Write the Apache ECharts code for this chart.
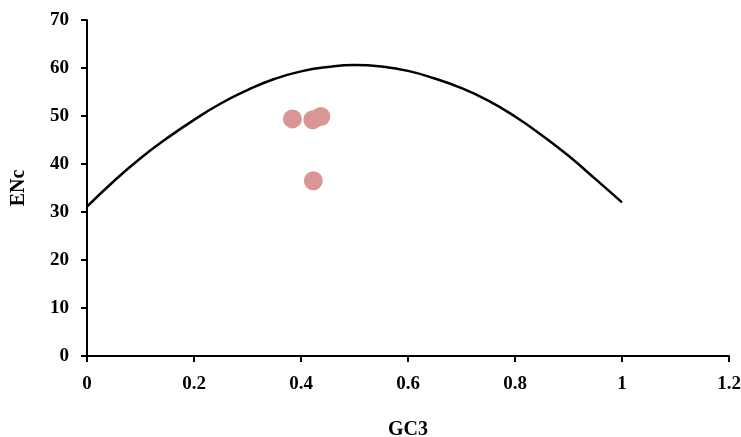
<!DOCTYPE html>
<html>
<head>
<meta charset="utf-8">
<script src="https://cdn.jsdelivr.net/npm/echarts@6/dist/echarts.min.js"></script>
<style>
  html, body { margin: 0; padding: 0; background: #fff; }
  #main { width: 741px; height: 437px; }
</style>
</head>
<body>
<div id="main"></div>
<script>
// expected ENc curve
const curveGC3 = [0, 0.05, 0.1, 0.15, 0.2, 0.25, 0.3, 0.35, 0.4, 0.45, 0.5,
    0.55, 0.6, 0.65, 0.7, 0.75, 0.8, 0.85, 0.9, 0.95, 1.0]
const curveENc = [31.1, 36.4, 41.2, 45.4, 49.2, 52.6, 55.4, 57.7, 59.3, 60.2, 60.6,
    60.3, 59.4, 57.8, 55.8, 53.2, 49.9, 46.0, 41.7, 36.9, 32.0]

// observed genes
const pointGC3 = [0.384, 0.422, 0.437, 0.423]
const pointENc = [49.4, 49.2, 49.9, 36.5]

const xTicks = ['0', '0.2', '0.4', '0.6', '0.8', '1', '1.2']

const font = 'Liberation Serif'
const labelStyle = {color: '#000', fontFamily: font, fontWeight: 'bold', fontSize: 19}
const axisLine = {show: true, onZero: false, lineStyle: {color: '#000', width: 2}}

let myChart = echarts.init(document.getElementById('main'))

let option = {
    backgroundColor: '#fff',
    animation: false,
    grid: {left: 87, right: 12, top: 20, bottom: 81, outerBoundsMode: 'none', containLabel: false},
    xAxis: {
        type: 'value',
        min: 0,
        max: 1.2,
        interval: 0.2,
        name: 'GC3',
        nameLocation: 'middle',
        nameGap: 64,
        nameTextStyle: {...labelStyle, fontSize: 20},
        axisLine: axisLine,
        axisTick: {show: true, length: 6, lineStyle: {color: '#000', width: 2}},
        axisLabel: {...labelStyle, margin: 19, formatter: v => xTicks[Math.round(v / 0.2)]},
        splitLine: {show: false}
    },
    yAxis: {
        type: 'value',
        min: 0,
        max: 70,
        interval: 10,
        name: 'ENc',
        nameLocation: 'middle',
        nameGap: 58,
        nameTextStyle: {...labelStyle, fontSize: 20},
        axisLine: axisLine,
        axisTick: {show: true, length: 6, lineStyle: {color: '#000', width: 2}},
        axisLabel: {...labelStyle, margin: 18},
        splitLine: {show: false}
    },
    series: [
        {
            type: 'line',
            smooth: true,
            showSymbol: false,
            lineStyle: {color: '#000', width: 2.5},
            data: curveGC3.map((x, i) => [x, curveENc[i]])
        },
        {
            type: 'scatter',
            symbolSize: 19,
            itemStyle: {color: '#d99694', opacity: 1},
            data: pointGC3.map((x, i) => [x, pointENc[i]])
        }
    ]
}

myChart.setOption(option)
</script>
</body>
</html>
